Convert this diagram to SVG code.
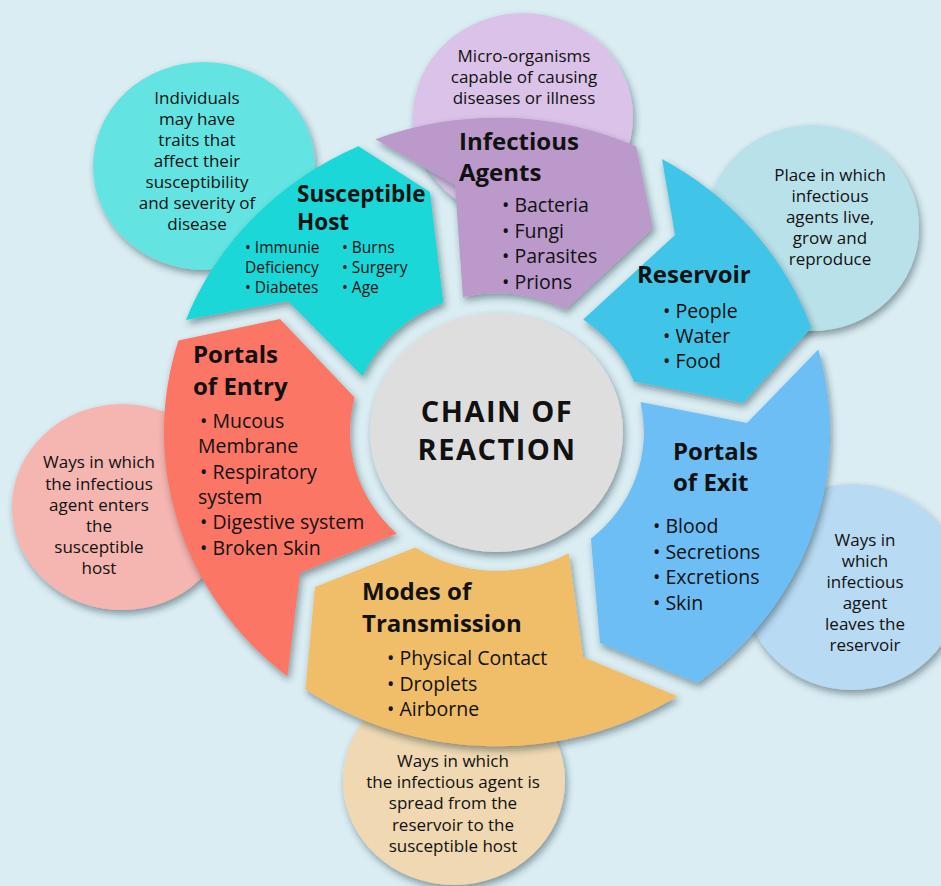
<svg xmlns="http://www.w3.org/2000/svg" width="941" height="886" viewBox="0 0 941 886">
<defs>
<filter id="sh" x="-20%" y="-20%" width="140%" height="140%">
<feDropShadow dx="2" dy="4" stdDeviation="3.5" flood-color="#1c2a30" flood-opacity="0.45"/>
</filter>
<style>
text{font-family:"Open Sans",Lato,"DejaVu Sans",sans-serif;fill:#111}
.note{font-size:17px;text-anchor:middle}
.title{font-size:24px;font-weight:bold}
.title2{font-size:22.5px;font-weight:bold}
.item{font-size:19.5px}
.small{font-size:15.5px}
.center{font-size:29px;font-weight:bold;text-anchor:middle;letter-spacing:1.5px}
.s{filter:url(#sh)}
</style>
</defs>
<rect width="941" height="886" fill="#daedf3"/>

<g id="notes">
<g id="note-susceptible-host">
<ellipse class="s" cx="204" cy="166" rx="111" ry="104" fill="#64e4e2"/>
<text class="note"><tspan x="197" y="104">Individuals</tspan><tspan x="197" y="125">may have</tspan><tspan x="197" y="146">traits that</tspan><tspan x="197" y="167">affect their</tspan><tspan x="197" y="188">susceptibility</tspan><tspan x="197" y="209">and severity of</tspan><tspan x="197" y="230">disease</tspan></text>
</g>
<g id="note-infectious-agents">
<ellipse class="s" cx="523" cy="117" rx="110" ry="104" fill="#dbc2e8"/>
<text class="note"><tspan x="524" y="62">Micro-organisms</tspan><tspan x="524" y="83">capable of causing</tspan><tspan x="524" y="104">diseases or illness</tspan></text>
</g>
<g id="note-reservoir">
<ellipse class="s" cx="812" cy="228" rx="107" ry="103" fill="#b9e1ea"/>
<text class="note"><tspan x="830" y="181">Place in which</tspan><tspan x="830" y="202">infectious</tspan><tspan x="830" y="223">agents live,</tspan><tspan x="830" y="244">grow and</tspan><tspan x="830" y="265">reproduce</tspan></text>
</g>
<g id="note-portals-of-exit">
<ellipse class="s" cx="852" cy="587" rx="108" ry="103" fill="#b8daf3"/>
<text class="note"><tspan x="865" y="546">Ways in</tspan><tspan x="865" y="567">which</tspan><tspan x="865" y="588">infectious</tspan><tspan x="865" y="609">agent</tspan><tspan x="865" y="630">leaves the</tspan><tspan x="865" y="651">reservoir</tspan></text>
</g>
<g id="note-modes-of-transmission">
<ellipse class="s" cx="454" cy="781" rx="111" ry="104" fill="#efd8b2"/>
<text class="note"><tspan x="453" y="767">Ways in which</tspan><tspan x="453" y="788">the infectious agent is</tspan><tspan x="453" y="809">spread from the</tspan><tspan x="453" y="831">reservoir to the</tspan><tspan x="453" y="852">susceptible host</tspan></text>
</g>
<g id="note-portals-of-entry">
<ellipse class="s" cx="122" cy="507" rx="110" ry="103" fill="#f5b5b0"/>
<text class="note"><tspan x="99" y="468">Ways in which</tspan><tspan x="99" y="490">the infectious</tspan><tspan x="99" y="511">agent enters</tspan><tspan x="99" y="532">the</tspan><tspan x="99" y="553">susceptible</tspan><tspan x="99" y="574">host</tspan></text>
</g>
</g>

<g id="connectors"></g>

<g id="susceptible-host">
<path class="s" fill="#1fd7d7" d="M358.4,146.2 L430,192 L443.4,302.8 A147,139 0 0 0 362.4,376.2 L288,301 L185.9,319.9 A333,314 0 0 1 358.4,146.2 Z"/>
<text class="title2"><tspan x="297" y="202">Susceptible</tspan><tspan x="297" y="230">Host</tspan></text>
<text class="small"><tspan x="245" y="253">• Immunie</tspan><tspan x="245" y="273">Deficiency</tspan><tspan x="245" y="293">• Diabetes</tspan></text>
<text class="small"><tspan x="342" y="253">• Burns</tspan><tspan x="342" y="273">• Surgery</tspan><tspan x="342" y="293">• Age</tspan></text>
</g>

<g id="infectious-agents">
<path class="s" fill="#bb99ca" d="M375.5,139.3 A333,314 0 0 1 636.2,146.4 L653,228 L565.6,309.2 A147,139 0 0 0 462.9,297 L455,185 Z"/>
<text class="title"><tspan x="459" y="150">Infectious</tspan><tspan x="459" y="181">Agents</tspan></text>
<text class="item"><tspan x="502" y="212">• Bacteria</tspan><tspan x="502" y="237.5">• Fungi</tspan><tspan x="502" y="263">• Parasites</tspan><tspan x="502" y="288.5">• Prions</tspan></text>
</g>

<g id="reservoir">
<path class="s" fill="#41c5e9" d="M662,158.9 A333,314 0 0 1 811.3,328.1 L743,403 L634,381.6 A147,139 0 0 0 583.2,319.5 L675,235 Z"/>
<text class="title"><tspan x="637" y="283">Reservoir</tspan></text>
<text class="item"><tspan x="663" y="318">• People</tspan><tspan x="663" y="343">• Water</tspan><tspan x="663" y="368">• Food</tspan></text>
</g>

<g id="portals-of-exit">
<path class="s" fill="#6cbef5" d="M818.3,349.6 A333,314 0 0 1 697.4,683.1 L600,643 L590.9,538.8 A147,139 0 0 0 640.5,402 L747,423 Z"/>
<text class="title"><tspan x="673" y="460">Portals</tspan><tspan x="673" y="491">of Exit</tspan></text>
<text class="item"><tspan x="653" y="533">• Blood</tspan><tspan x="653" y="558.5">• Secretions</tspan><tspan x="653" y="584">• Excretions</tspan><tspan x="653" y="609.5">• Skin</tspan></text>
</g>

<g id="modes-of-transmission">
<path class="s" fill="#f0bd69" d="M677.4,696.3 A333,314 0 0 1 305.5,689.2 L315,587 L415.4,547.5 A147,139 0 0 0 568.7,553.2 L583,657 Z"/>
<text class="title"><tspan x="362" y="600">Modes of</tspan><tspan x="362" y="632">Transmission</tspan></text>
<text class="item"><tspan x="387" y="665">• Physical Contact</tspan><tspan x="387" y="690.5">• Droplets</tspan><tspan x="387" y="716">• Airborne</tspan></text>
</g>

<g id="portals-of-entry">
<path class="s" fill="#fc7666" d="M287.4,676.3 A333,314 0 0 1 178.4,340.6 L280,319 L354.6,397.5 A147,139 0 0 0 396.7,533.5 L300,573 Z"/>
<text class="title"><tspan x="193" y="363">Portals</tspan><tspan x="193" y="395">of Entry</tspan></text>
<text class="item"><tspan x="200" y="428">• Mucous</tspan><tspan x="198" y="453">Membrane</tspan><tspan x="200" y="478.5">• Respiratory</tspan><tspan x="198" y="504">system</tspan><tspan x="200" y="529">• Digestive system</tspan><tspan x="200" y="554.5">• Broken Skin</tspan></text>
</g>

<g id="chain-of-reaction">
<ellipse class="s" cx="496.5" cy="432.5" rx="126.5" ry="119.5" fill="#dedede"/>
<text class="center"><tspan x="497" y="422">CHAIN OF</tspan><tspan x="497" y="460">REACTION</tspan></text>
</g>
</svg>
